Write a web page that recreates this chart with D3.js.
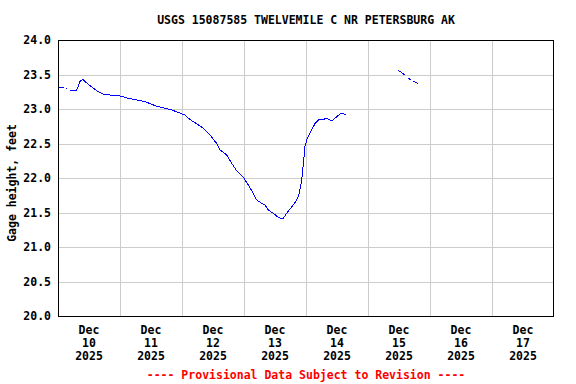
<!DOCTYPE html>
<meta charset="utf-8">
<title>USGS 15087585</title>
<style>
body { margin: 0; background: #fff; }
text { font-family: "DejaVu Sans Mono", "Liberation Mono", monospace; font-weight: bold; }
.grid line { stroke: #cccccc; stroke-width: 1; }
</style>
<body>
<svg width="576" height="384"></svg>
<script src="https://d3js.org/d3.v7.min.js"></script>
<script>

// gage height readings, null = gap in record
var times = [
  "2025-12-10 00:00", "2025-12-10 02:00", "2025-12-10 02:30", null,
  "2025-12-10 03:00", "2025-12-10 03:15", null,
  "2025-12-10 04:30", "2025-12-10 07:15", "2025-12-10 08:00", "2025-12-10 08:30",
  "2025-12-10 09:30", "2025-12-10 10:45", "2025-12-10 12:00", "2025-12-10 13:45",
  "2025-12-10 15:30", "2025-12-10 17:30", "2025-12-10 20:45", "2025-12-11 00:00",
  "2025-12-11 03:15", "2025-12-11 06:30", "2025-12-11 09:45", "2025-12-11 12:15",
  "2025-12-11 14:45", "2025-12-11 17:30", "2025-12-11 20:00", "2025-12-11 22:30",
  "2025-12-12 01:15", "2025-12-12 03:00", "2025-12-12 05:45", "2025-12-12 08:15",
  "2025-12-12 10:50", "2025-12-12 13:25", "2025-12-12 14:45", "2025-12-12 17:20",
  "2025-12-12 19:15", "2025-12-12 21:10", "2025-12-12 23:45", "2025-12-13 01:40",
  "2025-12-13 03:35", "2025-12-13 04:55", "2025-12-13 06:50", "2025-12-13 08:05",
  "2025-12-13 09:25", "2025-12-13 11:20", "2025-12-13 13:15", "2025-12-13 15:00",
  "2025-12-13 16:30", "2025-12-13 18:30", "2025-12-13 20:25", "2025-12-13 21:25",
  "2025-12-13 22:20", "2025-12-13 23:00", "2025-12-13 23:35", "2025-12-14 00:30",
  "2025-12-14 01:30", "2025-12-14 02:10", "2025-12-14 03:30", "2025-12-14 04:45",
  "2025-12-14 06:45", "2025-12-14 08:00", "2025-12-14 10:00", "2025-12-14 11:55",
  "2025-12-14 13:25", "2025-12-14 15:30", null,
  "2025-12-15 11:35", "2025-12-15 13:00", "2025-12-15 14:20", null,
  "2025-12-15 15:40", "2025-12-15 16:30", null,
  "2025-12-15 17:20", "2025-12-15 18:10", "2025-12-15 19:30"
];
var heights = [
  23.31, 23.31, 23.30, null,
  23.295, 23.29, null,
  23.275, 23.275, 23.34, 23.40,
  23.43, 23.39, 23.35, 23.30,
  23.25, 23.217, 23.20, 23.19,
  23.155, 23.13, 23.106, 23.068,
  23.034, 23.01, 22.986, 22.952,
  22.91, 22.85, 22.783, 22.72,
  22.623, 22.50, 22.406, 22.333,
  22.213, 22.106, 22.01, 21.899,
  21.778, 21.681, 21.633, 21.609,
  21.536, 21.488, 21.43, 21.406,
  21.488, 21.584, 21.681, 21.778,
  21.971, 22.213, 22.454, 22.575,
  22.648, 22.696, 22.79, 22.84,
  22.85, 22.865, 22.83, 22.889,
  22.937, 22.923, null,
  23.56, 23.53, 23.49, null,
  23.45, 23.42, null,
  23.40, 23.39, 23.37
];

var yTicks = [20.0, 20.5, 21.0, 21.5, 22.0, 22.5, 23.0, 23.5, 24.0];
var dayLabels = ["10", "11", "12", "13", "14", "15", "16", "17"];

var parse = d3.timeParse("%Y-%m-%d %H:%M");
var data = times.map(function(t, i) {
  return { t: t ? parse(t) : null, v: heights[i] };
});

var svg = d3.select("svg"),
    plot = {left: 58, right: 554, top: 40, bottom: 316};

var x = d3.scaleTime()
    .domain([parse("2025-12-10 00:00"), parse("2025-12-18 00:00")])
    .range([plot.left, plot.right]);
var y = d3.scaleLinear().domain([20, 24]).range([plot.bottom, plot.top]);

var dayTicks = d3.timeDay.range(parse("2025-12-11 00:00"), parse("2025-12-18 00:00"));

// grid
var grid = svg.append("g").attr("class", "grid");
grid.selectAll(".gx").data(dayTicks).enter().append("line")
    .attr("x1", function(d) { return Math.round(x(d)) + 0.5; })
    .attr("x2", function(d) { return Math.round(x(d)) + 0.5; })
    .attr("y1", plot.top).attr("y2", plot.bottom);
grid.selectAll(".gy").data(yTicks.slice(1, -1)).enter().append("line")
    .attr("x1", plot.left).attr("x2", plot.right)
    .attr("y1", function(d) { return Math.round(y(d)) + 0.5; })
    .attr("y2", function(d) { return Math.round(y(d)) + 0.5; });

// y tick labels
svg.append("g").selectAll("text").data(yTicks).enter().append("text")
    .attr("x", 51)
    .attr("y", function(d) { return y(d) + 4; })
    .attr("text-anchor", "end")
    .style("font-size", "11.5px")
    .text(function(d) { return d3.format(".1f")(d); });

// x tick labels, centred at noon
var noons = dayLabels.map(function(d) { return parse("2025-12-" + d + " 12:00"); });
var xl = svg.append("g").selectAll("text").data(noons).enter().append("text")
    .attr("text-anchor", "middle")
    .style("font-size", "11.5px");
xl.append("tspan").attr("x", function(d) { return x(d); }).attr("y", 334).text("Dec");
xl.append("tspan").attr("x", function(d) { return x(d); }).attr("y", 347)
    .text(function(d, i) { return dayLabels[i]; });
xl.append("tspan").attr("x", function(d) { return x(d); }).attr("y", 360).text("2025");

// data line
var line = d3.line()
    .defined(function(d) { return d.t !== null && d.v !== null; })
    .x(function(d) { return x(d.t); })
    .y(function(d) { return y(d.v); });
svg.append("path").datum(data)
    .attr("fill", "none")
    .attr("stroke", "#0000ff")
    .attr("stroke-width", 1)
    .attr("shape-rendering", "crispEdges")
    .attr("d", line);

// frame
svg.append("rect")
    .attr("x", plot.left + 0.5).attr("y", plot.top + 0.5)
    .attr("width", plot.right - plot.left - 1).attr("height", plot.bottom - plot.top)
    .attr("fill", "none").attr("stroke", "#000").attr("stroke-width", 1);

svg.append("text")
    .attr("x", (plot.left + plot.right) / 2).attr("y", 24)
    .attr("text-anchor", "middle")
    .style("font-size", "11.5px")
    .text("USGS 15087585 TWELVEMILE C NR PETERSBURG AK");

svg.append("text")
    .attr("transform", "translate(16,183) rotate(-90)")
    .attr("text-anchor", "middle")
    .style("font-size", "11.5px")
    .text("Gage height, feet");

svg.append("text")
    .attr("x", (plot.left + plot.right) / 2).attr("y", 379)
    .attr("text-anchor", "middle")
    .attr("fill", "#ff0000")
    .style("font-size", "11.5px")
    .text("---- Provisional Data Subject to Revision ----");

</script>
</body>
